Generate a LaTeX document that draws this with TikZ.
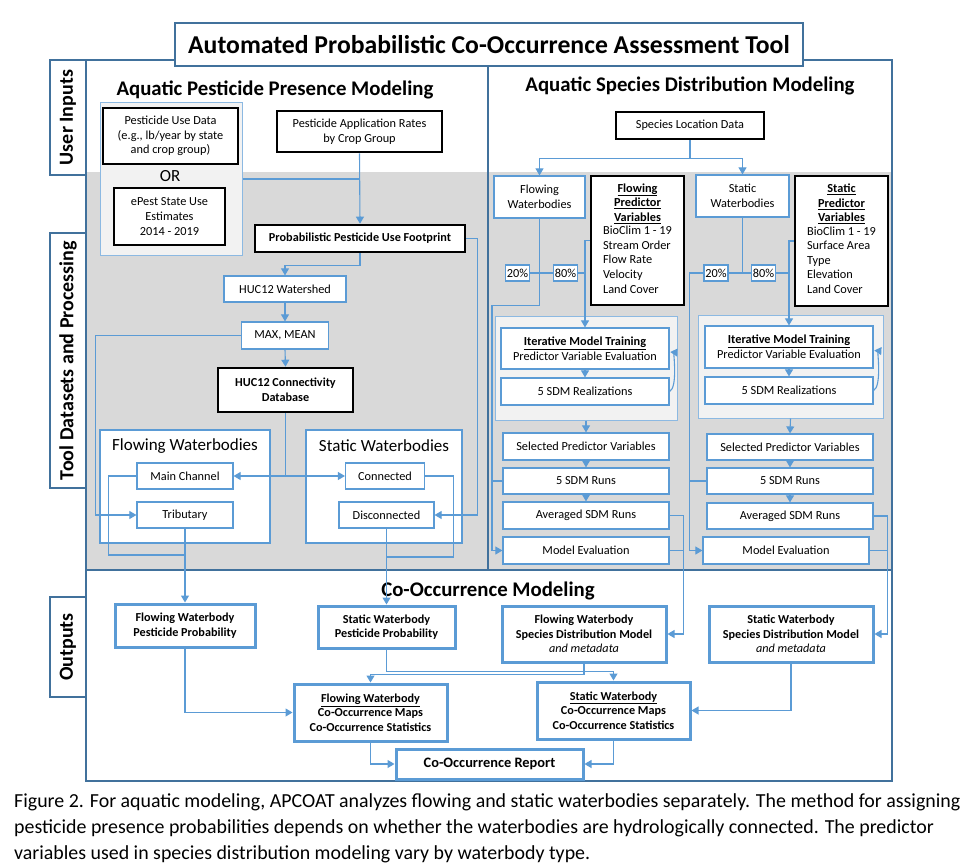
\documentclass[tikz,border=0pt]{standalone}
\usepackage{fontspec}
\setmainfont{Carlito}
\usetikzlibrary{arrows.meta,positioning}

\definecolor{frameblue}{RGB}{65,113,156}
\definecolor{lineblue}{RGB}{91,155,213}
\definecolor{bggray}{RGB}{217,217,217}
\definecolor{grpgray}{RGB}{242,242,242}

\tikzset{
  every node/.style={inner sep=0pt, align=center, font=\fontsize{12.3}{14.6}\selectfont},
  sz/.style 2 args={minimum width=#1pt, minimum height=#2pt},
  bluebox/.style={draw=lineblue, line width=1.2pt, fill=white},
  blackbox/.style={draw=black, line width=2.6pt, fill=white},
  outbox/.style={draw=lineblue, line width=3pt, fill=white, font=\bfseries\fontsize{12.2}{14.5}\selectfont},
  grpbox/.style={draw=lineblue!70, line width=1pt, fill=grpgray},
  tab/.style={draw=frameblue, line width=1.2pt, fill=white, rotate=90, font=\bfseries\fontsize{20}{22}\selectfont},
  pct/.style={bluebox, sz={24}{16}},
  conn/.style={draw=lineblue, line width=1.1pt},
  arr/.style={conn, -{Triangle[width=8pt,length=7pt]}},
  sectitle/.style={font=\bfseries\fontsize{20.8}{24}\selectfont},
}

\begin{document}
\begin{tikzpicture}[x=1pt, y=-1pt]
  \useasboundingbox (0,0) rectangle (980,864);

  % frame and shaded band
  \fill[bggray] (86,172) rectangle (892,570);
  \draw[frameblue, line width=1.3pt] (86,60) rectangle (892,781);
  \draw[frameblue, line width=1.3pt] (488,60) -- (488,570) (86,570) -- (892,570);

  \node[tab, sz={115}{36}] (tabuser) at (68,117.5) {User Inputs};
  \node[tab, sz={255}{36}] (tabtool) at (68,360.5) {Tool Datasets and Processing};
  \node[tab, sz={100}{36}] (tabout) at (68,647) {Outputs};

  \node[draw=frameblue, line width=1.3pt, fill=white, sz={628}{43},
        font=\bfseries\fontsize{25.7}{28}\selectfont] (title) at (489,44.5)
        {Automated Probabilistic Co-Occurrence Assessment Tool};

  % pesticide presence
  \node[sectitle] (pesttitle) at (275,90) {Aquatic Pesticide Presence Modeling};
  \node[grpbox, sz={142}{152}] (grpuse) at (171,179) {};
  \node[blackbox, sz={135}{56}] (usedata) at (170.5,136)
       {Pesticide Use Data\\(e.g., lb/year by state\\and crop group)};
  \node[font=\fontsize{17}{19}\selectfont] (or) at (170,176) {OR};
  \node[blackbox, sz={111}{57}] (epest) at (169.5,216.5)
       {ePest State Use\\Estimates\\2014 - 2019};
  \node[blackbox, sz={165}{41}] (apprates) at (359.5,131.5)
       {Pesticide Application Rates\\by Crop Group};
  \node[blackbox, sz={210}{27}, font=\bfseries\fontsize{12.2}{14.5}\selectfont] (footprint) at (360,238.5)
       {Probabilistic Pesticide Use Footprint};
  \node[bluebox, sz={122}{26}] (watershed) at (285,289) {HUC12 Watershed};
  \node[bluebox, sz={87}{27}] (maxmean) at (285,335.5) {MAX, MEAN};
  \node[blackbox, sz={135}{44}, font=\bfseries\fontsize{12.2}{14.5}\selectfont] (conndb) at (285.5,390)
       {HUC12 Connectivity\\Database};

  \node[bluebox, sz={170}{113}] (flowgrp) at (185,486.5) {};
  \node[font=\fontsize{17}{19}\selectfont] (flowgrptitle) at (185,446) {Flowing Waterbodies};
  \node[bluebox, sz={96}{26}] (mainch) at (185,476) {Main Channel};
  \node[bluebox, sz={96}{26}] (trib) at (185,515) {Tributary};
  \node[bluebox, sz={156}{113}] (statgrp) at (384,486.5) {};
  \node[font=\fontsize{17}{19}\selectfont] (statgrptitle) at (384,446) {Static Waterbodies};
  \node[bluebox, sz={79}{26}] (connected) at (385,476) {Connected};
  \node[bluebox, sz={95}{26}] (disconn) at (386.5,515) {Disconnected};

  % species distribution
  \node[sectitle] (sdmtitle) at (690,86) {Aquatic Species Distribution Modeling};
  \node[blackbox, sz={148}{27}] (speciesloc) at (690,125.5) {Species Location Data};
  \node[bluebox, sz={91}{42}] (flowwb) at (539.5,197) {Flowing\\Waterbodies};
  \node[bluebox, sz={93}{42}] (statwb) at (742.5,196) {Static\\Waterbodies};
  \node[blackbox, sz={93}{129}] (flowpred) at (637.5,240.5)
       {\textbf{\underline{Flowing}}\\\textbf{\underline{Predictor}}\\\textbf{\underline{Variables}}\\
        \begin{tabular}{@{}l@{}}BioClim 1 - 19\\Stream Order\\Flow Rate\\Velocity\\Land Cover\end{tabular}};
  \node[blackbox, sz={93}{130}] (statpred) at (841.5,241)
       {\textbf{\underline{Static}}\\\textbf{\underline{Predictor}}\\\textbf{\underline{Variables}}\\
        \begin{tabular}{@{}l@{}}BioClim 1 - 19\\Surface Area\\Type\\Elevation\\Land Cover\end{tabular}};
  \node[pct] (f20) at (517.5,273) {20\%};
  \node[pct] (f80) at (565.5,273) {80\%};
  \node[pct] (s20) at (716,273) {20\%};
  \node[pct] (s80) at (763.5,273) {80\%};

  \node[grpbox, sz={182}{104}] (ftraingrp) at (586,368) {};
  \node[bluebox, sz={168}{41}] (ftrain) at (585,348.5)
       {\textbf{\underline{Iterative Model Training}}\\Predictor Variable Evaluation};
  \node[bluebox, sz={168}{27}] (freal) at (585,391.5) {5 SDM Realizations};
  \node[bluebox, sz={166}{27}] (fsel) at (586,446.5) {Selected Predictor Variables};
  \node[bluebox, sz={166}{26}] (fruns) at (586,481) {5 SDM Runs};
  \node[bluebox, sz={166}{27}] (favg) at (586,515.5) {Averaged SDM Runs};
  \node[bluebox, sz={166}{27}] (feval) at (586,550.5) {Model Evaluation};

  \node[grpbox, sz={185}{103}] (straingrp) at (790.5,366.5) {};
  \node[bluebox, sz={168}{42}] (strain) at (789,347)
       {\textbf{\underline{Iterative Model Training}}\\Predictor Variable Evaluation};
  \node[bluebox, sz={168}{27}] (sreal) at (789,390.5) {5 SDM Realizations};
  \node[bluebox, sz={166}{26}] (ssel) at (790,447) {Selected Predictor Variables};
  \node[bluebox, sz={166}{26}] (sruns) at (790,481) {5 SDM Runs};
  \node[bluebox, sz={166}{26}] (savg) at (790,516) {Averaged SDM Runs};
  \node[bluebox, sz={166}{27}] (seval) at (786,550.5) {Model Evaluation};

  % co-occurrence
  \node[sectitle] (cotitle) at (488,591) {Co-Occurrence Modeling};
  \node[outbox, sz={140}{43}] (fpest) at (185,625.5) {Flowing Waterbody\\Pesticide Probability};
  \node[outbox, sz={137}{42}] (spest) at (386.5,627) {Static Waterbody\\Pesticide Probability};
  \node[outbox, sz={164}{56}] (fsdm) at (584,634)
       {Flowing Waterbody\\Species Distribution Model\\\mdseries\itshape and metadata};
  \node[outbox, sz={164}{56}] (ssdm) at (791,634)
       {Static Waterbody\\Species Distribution Model\\\mdseries\itshape and metadata};
  \node[outbox, sz={153}{57}] (fco) at (370.5,712.5)
       {\underline{Flowing Waterbody}\\Co-Occurrence Maps\\Co-Occurrence Statistics};
  \node[outbox, sz={153}{57}] (sco) at (613.5,710.5)
       {\underline{Static Waterbody}\\Co-Occurrence Maps\\Co-Occurrence Statistics};
  \node[outbox, sz={187}{30}, font=\bfseries\fontsize{14.4}{16}\selectfont] (report) at (489.5,764)
       {Co-Occurrence Report};

  \node[anchor=north west, align=left, font=\fontsize{19.9}{26}\selectfont] (caption) at (14,793)
       {Figure 2. For aquatic modeling, APCOAT analyzes flowing and static waterbodies separately. The method for assigning\\
        pesticide presence probabilities depends on whether the waterbodies are hydrologically connected. The predictor\\
        variables used in species distribution modeling vary by waterbody type.};

  % connectors, pesticide side
  \draw[arr] (apprates.south) -- (footprint.north);
  \draw[conn] (grpuse.east) -- (grpuse.east -| apprates.south);
  \draw[arr] (footprint.south) -- ++(0,12) -| (watershed.north);
  \draw[arr] (watershed.south) -- (maxmean.north);
  \draw[arr] (maxmean.south) -- (conndb.north);
  \draw[arr] (conndb.south) |- (mainch.east);
  \draw[arr] (conndb.south) |- (connected.west);
  \draw[arr] (maxmean.west) -- ++(-145,0) |- (trib.west);
  \draw[conn] (mainch.west) -- ++(-28,0) -- ++(0,79) -| (trib.south);
  \draw[arr] (trib.south) -- (fpest.north);
  \draw[conn] (connected.east) -- ++(28,0) -- ++(0,81) -| (disconn.south);
  \draw[arr] (disconn.south) -- (spest.north);
  \draw[arr] (footprint.east) -- ++(11,0) |- (disconn.east);

  % connectors, species side
  \draw[arr] (speciesloc.south) -- ++(0,18) -| (flowwb.north);
  \draw[arr] (speciesloc.south) -- ++(0,18) -| (statwb.north);
  \draw[arr] (flowwb.south) -- ++(0,87) -- ++(-47.5,0) |- (feval.west);
  \draw[conn] (f20.east) -- (f80.west);
  \draw[conn] (f80.east) -- (f80.east -| ftrain.north);
  \draw[arr] (flowpred.west) -| (ftrain.north);
  \draw[conn] (fruns.west) -- ++(-11,0);
  \draw[conn] (statwb.south) -- (statwb.south |- s20.east);
  \draw[conn] (s20.east) -- (s80.west);
  \draw[conn] (s80.east) -- (s80.east -| strain.north);
  \draw[arr] (statpred.west) -| (strain.north);
  \draw[arr] (s20.west) -- ++(-14,0) |- (seval.west);
  \draw[conn] (sruns.west) -- ++(-17,0);
  \foreach \p in {f,s}{
    \draw[arr] (\p train.south) -- (\p real.north);
    \draw[arr] (\p real.east) .. controls +(8,-4) and +(-4,6) .. ([xshift=8pt]\p train.east);
    \draw[arr] (\p traingrp.south) -- (\p sel.north);
    \draw[arr] (\p sel.south) -- (\p runs.north);
    \draw[arr] (\p runs.south) -- (\p avg.north);
    \draw[arr] (\p avg.east) -- ++(14,0) |- (\p sdm.east);
  }
  \draw[conn] (feval.east) -- ++(14,0);
  \draw[conn] (seval.east) -- ++(17,0);

  % connectors, co-occurrence
  \draw[arr] (fpest.south) |- (fco.west);
  \draw[arr] (spest.south) -- ++(0,22) -| (sco.north);
  \draw[arr] (fsdm.south) -- ++(0,11) -| (fco.north);
  \draw[arr] (ssdm.south) |- (sco.east);
  \draw[arr] (fco.south) |- (report.west);
  \draw[arr] (sco.south) |- (report.east);
\end{tikzpicture}
\end{document}
